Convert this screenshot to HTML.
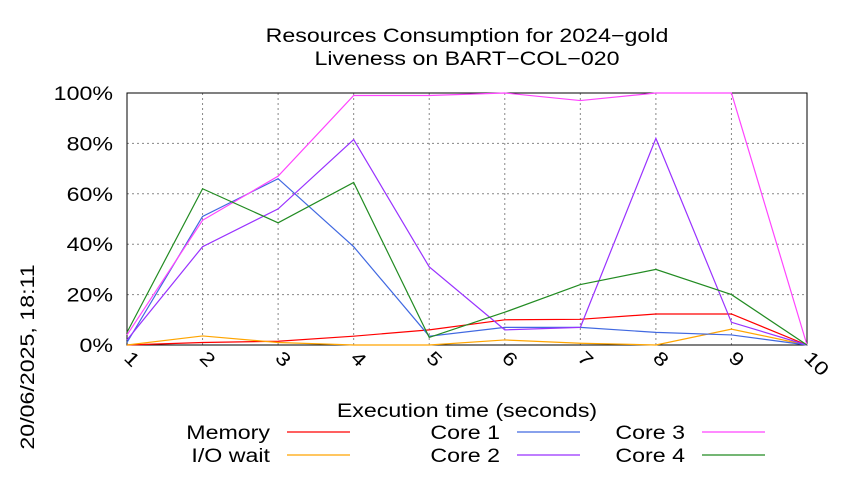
<!DOCTYPE html>
<html><head><meta charset="utf-8"><style>
body{margin:0;background:#fff;}
svg text{font-family:"Liberation Sans",sans-serif;fill:#000;}
</style></head><body>
<svg id="chart" width="850" height="475" xmlns="http://www.w3.org/2000/svg">
<text class="w" x="467" y="42" font-size="19" text-anchor="middle">Resources Consumption for 2024−gold</text>
<text class="w" x="467" y="65" font-size="19" text-anchor="middle">Liveness on BART−COL−020</text>
<text class="w" transform="translate(34,357) rotate(-90)" font-size="19" text-anchor="middle">20/06/2025, 18:11</text>
<text class="w" x="467" y="417" font-size="19" text-anchor="middle">Execution time (seconds)</text>
<g id="grid"></g><g id="axes"></g><g id="series"></g><g id="legend"></g>
</svg>
<script>
const xValues=[1,2,3,4,5,6,7,8,9,10];
const yTicks=[0,20,40,60,80,100];
const yTickLabels=["0%","20%","40%","60%","80%","100%"];
const memory=[0,1,1.5,3.5,6,10,10.2,12.3,12.3,0];
const ioWait=[0,3.6,1,0,0,2,0.7,0,6.3,0];
const core1=[1,51,66,39,3.5,7,7,5,4,0];
const core2=[2,39,54,81.5,31,6,7,82,9,0];
const core3=[4,49.5,67,99,99,100,97,100,100,0];
const core4=[5,62,48.5,64.5,3,13,24,30,20,0];
const seriesNames=["Memory","I/O wait","Core 1","Core 2","Core 3","Core 4"];
const seriesData=[memory,ioWait,core1,core2,core3,core4];
const colors=["#ff0000","#ffa500","#4169e1","#9932ff","#ff44ff","#228b22"];
const X0=127,X1=807,Y0=345,Y1=93;
const sx=v=>X0+(v-1)/(9)*(X1-X0);
const sy=v=>Y0-v/100*(Y0-Y1);
const NS="http://www.w3.org/2000/svg";
function mk(t,a,p){const e=document.createElementNS(NS,t);for(const k in a)e.setAttribute(k,a[k]);p.appendChild(e);return e;}
const grid=document.getElementById('grid'),axes=document.getElementById('axes'),ser=document.getElementById('series'),leg=document.getElementById('legend');
yTicks.forEach((t,i)=>{
 if(t>0){const l=mk('line',{x1:X0,x2:X1,y1:sy(t),y2:sy(t),stroke:'#888','stroke-dasharray':'2,3','stroke-width':1},grid);
 
 }
 const tx=mk('text',{x:113,y:sy(t)+7,'font-size':19,'text-anchor':'end',class:'w'},axes);tx.textContent=yTickLabels[i];
 
 
});
xValues.forEach(v=>{
 if(v>1&&v<10){const l=mk('line',{x1:sx(v),x2:sx(v),y1:Y1,y2:Y0,stroke:'#888','stroke-dasharray':'2,3','stroke-width':1},grid);
 
 }
 const tx=mk('text',{transform:`translate(${sx(v)-4},${Y0+14}) rotate(45)`,'font-size':19,class:'w'},axes);tx.textContent=v;
 
 
});
const fr=mk('rect',{x:X0,y:Y1,width:X1-X0,height:Y0-Y1,fill:'none',stroke:'#000','stroke-width':1},axes);


seriesData.forEach((d,i)=>{
 const p=mk('polyline',{points:d.map((v,j)=>sx(xValues[j])+','+sy(v)).join(' '),fill:'none',stroke:colors[i],'stroke-width':1.2},ser);
 
 
});
const lx=[270,270,500,500,685,685],ly=[439,462,439,462,439,462];
seriesNames.forEach((n,i)=>{
 const t=mk('text',{x:lx[i],y:ly[i],'font-size':19,'text-anchor':'end',class:'w'},leg);t.textContent=n;
 
 
 const l=mk('line',{x1:lx[i]+17,x2:lx[i]+80,y1:ly[i]-7,y2:ly[i]-7,stroke:colors[i],'stroke-width':1.2},leg);
 
 
});
document.querySelectorAll('text.w').forEach(t=>{
 const L=t.getComputedTextLength();
 if(L>0){t.setAttribute('textLength',(L*1.22).toFixed(1));t.setAttribute('lengthAdjust','spacingAndGlyphs');}
});
</script>
</body></html>
